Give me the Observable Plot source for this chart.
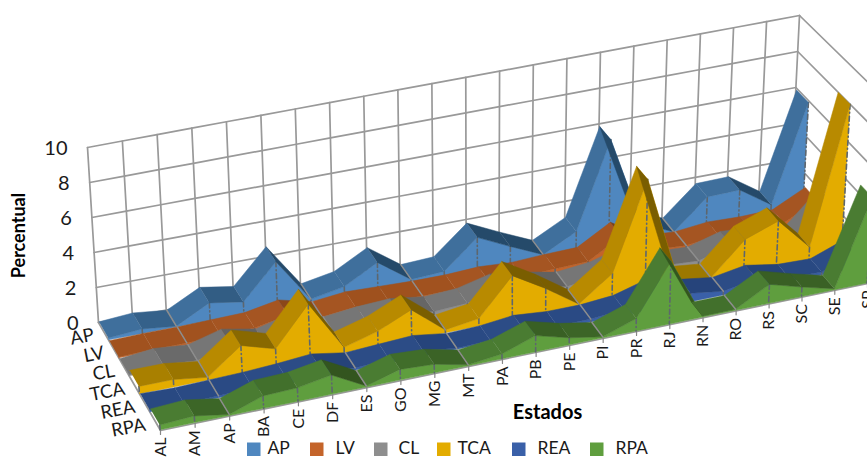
<!DOCTYPE html>
<html><head><meta charset="utf-8">
<style>html,body{margin:0;padding:0;background:#fff;overflow:hidden}</style>
<script src="https://cdn.jsdelivr.net/npm/d3@7"></script>
<script src="https://cdn.jsdelivr.net/npm/@observablehq/plot@0.6"></script>
</head><body><div id="chart"></div>
<script>
const states = ["AL","AM","AP","BA","CE","DF","ES","GO","MG","MT","PA","PB","PE","PI","PR","RJ","RN","RO","RS","SC","SE","SP"];
const seriesNames = ["AP","LV","CL","TCA","REA","RPA"];
const valuesAP  = [0.1,0.25,0.05,1.0,0.7,2.6,0.15,0.5,1.5,0.2,0.3,1.85,1.0,0.2,1.15,5.9,0.9,0.1,1.7,1.75,0.6,5.9];
const valuesLV  = [0.05,0.1,0.1,0.15,0.2,0.55,0.1,0.3,0.25,0.2,0.2,0.3,0.2,0.3,0.35,1.4,0.3,0.2,0.4,0.35,0.4,1.3];
const valuesCL  = [0.05,0.25,0.1,0.6,0.25,0.7,0.2,0.4,0.5,0.25,0.35,0.8,0.55,0.2,0.4,0.9,0.3,0.2,0.7,0.6,0.3,2.0];
const valuesTCA = [0.4,0.4,0.15,1.5,0.95,3.0,0.3,0.8,1.6,0.15,0.4,2.35,1.3,0.1,1.4,6.1,0.3,0.1,1.8,2.45,0.7,8.0];
const valuesREA = [0.1,0.05,0.1,0.15,0.25,0.4,0.1,0.2,0.3,0.05,0.1,0.3,0.15,0.15,0.3,0.8,0.45,0.2,0.5,0.2,0.15,0.8];
const valuesRPA = [0.25,0.35,0.05,0.65,0.7,1.0,0.05,0.55,0.45,0.05,0.25,0.85,0.37,0.05,0.65,3.3,0.05,0.05,1.0,0.5,0.05,4.5];
const seriesValues = [valuesAP,valuesLV,valuesCL,valuesTCA,valuesREA,valuesRPA];
const frontColors = ["#4F87BF","#C4642A","#8E8E8E","#E3AC00","#3A60A8","#5F9E3E"];
const riseColors  = ["#3F6F9C","#A55522","#767676","#B88A00","#2C4C86","#4A7C32"];
const flatColors  = ["#3A6994","#A1521F","#707070","#A98000","#2A4A84","#42702C"];
const fallColors  = ["#254A6A","#7A3E16","#505050","#7A5E00","#1E3666","#33551F"];
const yTicks = [0,2,4,6,8,10];
const gridStates = ["AP","ES","MT","PI","RO"];

// floor corners, vertical vectors and perspective of the 3-D view
const view = {bl:[98,322],br:[790,195],fl:[160,430],fr:[867,283],
  ubl:[-1.1,-17.5],ubr:[0.9,-18],ufl:[-1.4,-19],ufr:[1.2,-19],persp:0.03};
const N = states.length-1;
function project(u,v,h){
  const t=u/N, s=t*(1+view.persp*(1-t));
  const mix=(a,b,c,d,i)=>(1-v)*((1-s)*a[i]+s*b[i])+v*((1-s)*c[i]+s*d[i]);
  return {x:mix(view.bl,view.br,view.fl,view.fr,0)+h*mix(view.ubl,view.ubr,view.ufl,view.ufr,0),
          y:mix(view.bl,view.br,view.fl,view.fr,1)+h*mix(view.ubl,view.ubr,view.ufl,view.ufr,1)};
}
const scaleX={domain:[0,867],range:[0,867],axis:null}, scaleY={domain:[0,457],range:[0,457],axis:null};
const poly=(id,c,pts)=>pts.map(p=>({...p,id,c}));
const marks=[];
const gridCol="#999999";
const wall=[];
yTicks.forEach(h=>{
  for(let u=0;u<=N;u++) wall.push({...project(u,0,h),id:"b"+h});
  wall.push({...project(N,0,h),id:"r"+h},{...project(N,1,h),id:"r"+h});
});
states.forEach((s,u)=>{ wall.push({...project(u,0,0),id:"v"+u},{...project(u,0,10),id:"v"+u}); });
wall.push({...project(0,0,0),id:"e"},{...project(0,1,0),id:"e"},{...project(N,1,0),id:"e"});
marks.push(Plot.line(wall,{x:"x",y:"y",z:"id",stroke:gridCol,strokeWidth:1.7}));
const ticks=[];
states.forEach((s,u)=>{const p=project(u,1,0);ticks.push({...p,id:u},{x:p.x,y:p.y+4,id:u});});
marks.push(Plot.line(ticks,{x:"x",y:"y",z:"id",stroke:"#888",strokeWidth:1.2}));

seriesNames.forEach((name,i)=>{
  const vals=seriesValues[i];
  const vb=(i+0.06)/6, vf=(i+0.96)/6;
  const top=[];
  for(let u=0;u<N;u++){
    const d=vals[u+1]-vals[u];
    const c=d>0.05?riseColors[i]:d3.interpolateRgb(flatColors[i],fallColors[i])(Math.min(1,Math.max(0,-d/0.8)));
    top.push(...poly("t"+u,c,[project(u,vb,vals[u]),project(u+1,vb,vals[u+1]),project(u+1,vf,vals[u+1]),project(u,vf,vals[u])]));
  }
  const front=[];
  vals.forEach((h,u)=>front.push(project(u,vf,h)));
  for(let u=N;u>=0;u--) front.push(project(u,vf,0));
  marks.push(Plot.line(front,{x:"x",y:"y",fill:frontColors[i],stroke:frontColors[i],strokeWidth:0.5}));
  const drops=[];
  vals.forEach((h,u)=>{ if(h>0.12){drops.push({...project(u,vf,h),id:u},{...project(u,vf,0),id:u});} });
  marks.push(Plot.line(drops,{x:"x",y:"y",z:"id",stroke:"#5d666e",strokeWidth:1.6,strokeDasharray:"5 3 1 3"}));
  marks.push(Plot.line(top,{x:"x",y:"y",z:"id",fill:"c",stroke:"c",strokeWidth:0.5}));
  const creases=[];
  gridStates.forEach(s=>{const u=states.indexOf(s); if(vals[u]<=0.2) creases.push({...project(u,vb,vals[u]),id:u},{...project(u,vf,vals[u]),id:u});});
  marks.push(Plot.line(creases,{x:"x",y:"y",z:"id",stroke:"#8d8d8d",strokeWidth:1.5}));
});
// labels
const font="Lato";
marks.push(Plot.text(states,{x:(d,u)=>project(u,1,0).x,y:(d,u)=>project(u,1,0).y+7,text:d=>d,rotate:-90,textAnchor:"end",fontSize:16,fontFamily:font,fill:"#1a1a1a"}));
marks.push(Plot.text(yTicks,{x:h=>project(0,0,h).x-20,y:h=>project(0,0,h).y+1,text:d=>String(d),textAnchor:"end",fontSize:20,fontFamily:font,fill:"#1a1a1a"}));
marks.push(Plot.text(seriesNames,{x:(d,i)=>project(0,(i+.5)/6,0).x-10,y:(d,i)=>project(0,(i+.5)/6,0).y+3,text:d=>d,textAnchor:"end",rotate:-11,fontSize:18.5,fontFamily:font,fill:"#1a1a1a"}));
marks.push(Plot.text(["Percentual"],{x:()=>19,y:()=>235,text:d=>d,rotate:-90,fontSize:18,fontWeight:"bold",fontFamily:font,fill:"#000"}));
marks.push(Plot.text(["Estados"],{x:()=>547,y:()=>412,text:d=>d,fontSize:20,fontWeight:"bold",fontFamily:font,fill:"#000"}));
// legend
const legendX=[247,310,374,437,512,590];
const labelX=[267,335,398,457,537,615];
marks.push(Plot.rect(seriesNames,{x1:(d,i)=>legendX[i],x2:(d,i)=>legendX[i]+13.5,y1:()=>442.5,y2:()=>456,fill:(d,i)=>frontColors[i]}));
marks.push(Plot.text(seriesNames,{x:(d,i)=>labelX[i],y:()=>447.5,text:d=>d,textAnchor:"start",fontSize:17.5,fontFamily:font,fill:"#1a1a1a"}));

const chart=Plot.plot({width:867,height:457,margin:0,x:scaleX,y:scaleY,style:{background:"#fff"},marks});
document.getElementById("chart").append(chart);
</script></body></html>
